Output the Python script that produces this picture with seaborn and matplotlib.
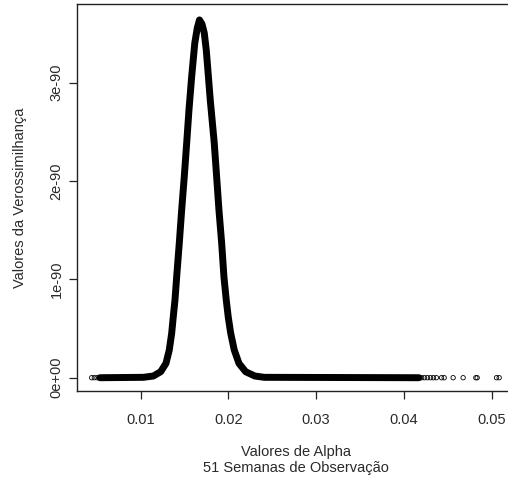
import numpy as np
import pandas as pd
import matplotlib
matplotlib.use("Agg")
import matplotlib.pyplot as plt
import seaborn as sns

# valores (verossimilhança em unidades de 1e-90)
alpha_curva = [0.005362, 0.010296, 0.011436, 0.012279, 0.012883, 0.013259,
               0.013533, 0.013715, 0.013909, 0.014103, 0.014399, 0.014672,
               0.014969, 0.015242, 0.015504, 0.015812, 0.016165, 0.016450,
               0.016701, 0.016986, 0.017248, 0.017476, 0.017624, 0.017932,
               0.018387, 0.018661, 0.018923, 0.019231, 0.019493, 0.019755,
               0.019983, 0.020256, 0.020667, 0.021202, 0.021966, 0.023026,
               0.024085, 0.041715]
veros_curva = [0.0, 0.004, 0.017, 0.061, 0.146, 0.282,
               0.452, 0.620, 0.790, 1.027, 1.367, 1.705,
               2.044, 2.384, 2.722, 3.061, 3.401, 3.556,
               3.638, 3.597, 3.506, 3.333, 3.170, 2.824,
               2.387, 2.041, 1.705, 1.370, 1.024, 0.790,
               0.617, 0.455, 0.282, 0.146, 0.061, 0.017,
               0.004, 0.0]

# pontos isolados nas caudas (verossimilhança ~ 0)
alpha_caudas = [0.004416, 0.004712, 0.005020,
                0.04202, 0.04234, 0.04268, 0.04303, 0.04337, 0.04371,
                0.04430, 0.04460, 0.04562, 0.04676, 0.04821, 0.04836,
                0.05057, 0.05087]
veros_caudas = [0.0] * len(alpha_caudas)

y_ticks = [0, 1, 2, 3]
y_tick_labels = ["0e+00", "1e-90", "2e-90", "3e-90"]
x_ticks = [0.01, 0.02, 0.03, 0.04, 0.05]
x_tick_labels = ["0.01", "0.02", "0.03", "0.04", "0.05"]

df_curva = pd.DataFrame({"alpha": alpha_curva,
                         "veros": np.array(veros_curva) * 1e-90})
df_caudas = pd.DataFrame({"alpha": alpha_caudas,
                          "veros": np.array(veros_caudas) * 1e-90})

sns.set_style("ticks")
plt.rcParams["font.family"] = ["Liberation Sans", "DejaVu Sans"]

fig = plt.figure(figsize=(5.08, 4.83), dpi=100)
ax = fig.add_axes([0.1522, 0.1911, 0.862, 0.800])

sns.lineplot(data=df_curva, x="alpha", y="veros", ax=ax, color="black",
             linewidth=5.0, solid_capstyle="round", solid_joinstyle="round",
             estimator=None)
sns.scatterplot(data=df_caudas, x="alpha", y="veros", ax=ax, marker="o",
                facecolor="none", edgecolor="black", linewidth=0.6, s=10)

ax.set_xlim(0.002775, 0.0527)
ax.set_ylim(-0.132e-90, 3.797e-90)
ax.set_xticks(x_ticks)
ax.set_xticklabels(x_tick_labels)
ax.set_yticks([v * 1e-90 for v in y_ticks])
ax.set_yticklabels(y_tick_labels, rotation=90, va="center")

for s in ax.spines.values():
    s.set_visible(True)
    s.set_color("#222222")
    s.set_linewidth(1.0)

ax.tick_params(axis="both", length=5.8, width=0.9, color="#222222",
               labelsize=10.5, labelcolor="#2a2a2a")
ax.tick_params(axis="x", pad=10)
ax.tick_params(axis="y", pad=4)

ax.set_xlabel("Valores de Alpha\n51 Semanas de Observação", fontsize=10.5,
              color="#2a2a2a", labelpad=13, linespacing=1.2)
ax.set_ylabel("Valores da Verossimilhança", fontsize=10.5, color="#2a2a2a",
              labelpad=16)

fig.savefig("out.png", dpi=100)
